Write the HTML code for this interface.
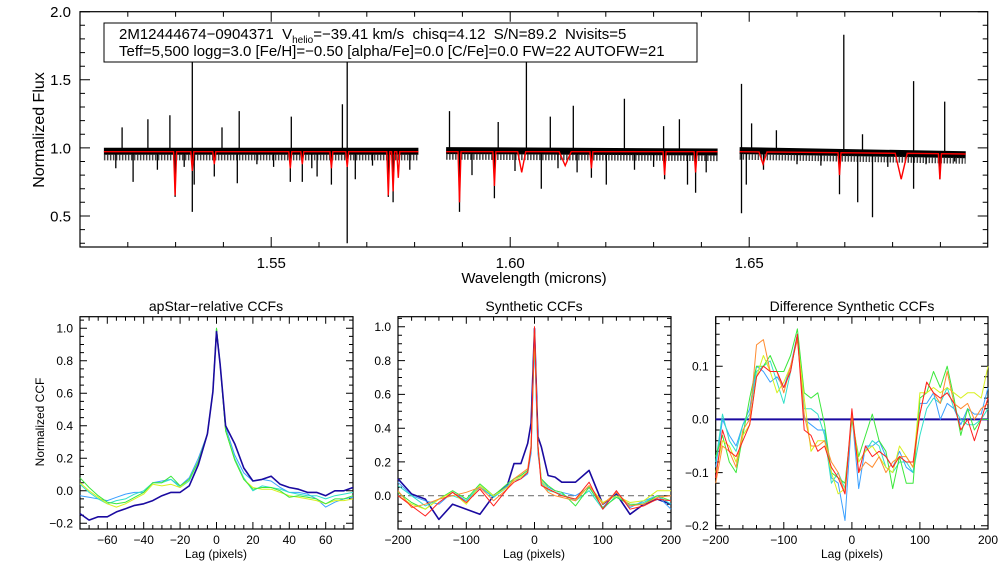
<!DOCTYPE html>
<html><head><meta charset="utf-8"><title>apStar CCF plot</title>
<style>
html,body{margin:0;padding:0;background:#fff;}
svg{display:block;font-family:"Liberation Sans",sans-serif;}
.pre{white-space:pre;}
</style></head>
<body>
<svg id="fig" width="1008" height="576" viewBox="0 0 1008 576" xmlns="http://www.w3.org/2000/svg">
<rect x="0" y="0" width="1008" height="576" fill="#fff"/>
<g id="spec"></g>
<g id="p1"></g>
<g id="p2"></g>
<g id="p3"></g>
<rect x="104" y="23" width="593" height="39" fill="#fff" stroke="#000" stroke-width="1"/>
<text class="pre" x="119" y="39" font-size="15">2M12444674−0904371  V<tspan font-size="10" dy="4">helio</tspan><tspan dy="-4">=−39.41 km/s  chisq=4.12  S/N=89.2  Nvisits=5</tspan></text>
<text class="pre" x="119" y="56" font-size="15">Teff=5,500 logg=3.0 [Fe/H]=−0.50 [alpha/Fe]=0.0 [C/Fe]=0.0 FW=22 AUTOFW=21</text>
<text transform="translate(44,130) rotate(-90)" text-anchor="middle" font-size="16">Normalized Flux</text>
<text x="534" y="283" text-anchor="middle" font-size="15">Wavelength (microns)</text>
<text x="216" y="311" text-anchor="middle" font-size="14">apStar−relative CCFs</text>
<text x="534" y="311" text-anchor="middle" font-size="14">Synthetic CCFs</text>
<text x="852" y="311" text-anchor="middle" font-size="14">Difference Synthetic CCFs</text>
<text transform="translate(44,422) rotate(-90)" text-anchor="middle" font-size="12">Normalized CCF</text>
<text x="216" y="558" text-anchor="middle" font-size="12">Lag (pixels)</text>
<text x="534" y="558" text-anchor="middle" font-size="12">Lag (pixels)</text>
<text x="852" y="558" text-anchor="middle" font-size="12">Lag (pixels)</text>
</svg>
<script>
// ---------- spectrum data ----------
const segStart = [1.515, 1.5866, 1.648];
const segEnd = [1.5808, 1.6434, 1.6953];
const contStart = [0.975, 0.98, 0.98];
const contEnd = [0.975, 0.97, 0.95];
const emisWave = [1.5188,1.5242,1.5288,1.5335,1.5397,1.5433,1.5542,1.5649,1.5659,1.5873,1.5975,1.6034,1.6084,1.6132,1.6239,1.6321,1.6354,1.6484,1.6505,1.6557,1.6698,1.6737,1.6844,1.6909];
const emisFlux = [1.15,1.21,1.24,1.64,1.15,1.27,1.23,1.32,1.64,1.27,1.19,1.64,1.23,1.31,1.36,1.16,1.21,1.47,1.18,1.13,1.83,1.10,1.49,1.34];
const absWave = [1.5211,1.5299,1.5335,1.5339,1.5381,1.5429,1.554,1.5565,1.5596,1.5626,1.5659,1.5676,1.5745,1.5755,1.5894,1.5967,1.6065,1.617,1.6201,1.6323,1.6371,1.6388,1.6484,1.6494,1.6689,1.6727,1.6758,1.6844,1.6899,1.5175,1.5262,1.5318,1.5470,1.5505,1.5585,1.5712,1.5790,1.5920,1.6010,1.6100,1.6140,1.6260,1.6300,1.6410,1.6530,1.6600,1.6650,1.6790,1.6870,1.6930];
const absFlux = [0.75,0.64,0.53,0.73,0.79,0.74,0.75,0.75,0.79,0.73,0.30,0.77,0.64,0.60,0.53,0.63,0.70,0.78,0.73,0.77,0.73,0.67,0.52,0.73,0.66,0.60,0.49,0.70,0.77,0.85,0.84,0.86,0.88,0.86,0.85,0.87,0.84,0.80,0.83,0.85,0.82,0.84,0.86,0.82,0.84,0.88,0.87,0.86,0.88,0.90];
const redWave = [1.5299,1.5335,1.5381,1.554,1.5565,1.5626,1.5659,1.5745,1.5755,1.5766,1.5894,1.5967,1.6024,1.6115,1.617,1.6323,1.6388,1.6529,1.6689,1.6818,1.6899];
const redFlux = [0.65,0.83,0.88,0.85,0.88,0.85,0.86,0.65,0.68,0.78,0.60,0.72,0.82,0.87,0.85,0.80,0.82,0.88,0.80,0.77,0.77];
const redWidth = [1.5,1.5,1.5,1.5,1.5,1.5,1.5,1.5,1.5,1.5,1.5,1.5,4,6,1.5,1.5,1.5,4,1.5,6,1.5];

// ---------- CCF data ----------
const lag1 = [-75,-70,-65,-60,-55,-50,-45,-40,-35,-30,-25,-20,-15,-10,-5,-2,0,2,5,10,15,20,25,30,35,40,45,50,55,60,65,70,75];
const ccf1Navy = [-0.14,-0.18,-0.16,-0.16,-0.13,-0.11,-0.09,-0.08,-0.06,-0.03,-0.01,-0.01,0.03,0.16,0.35,0.61,0.98,0.78,0.40,0.29,0.14,0.06,0.07,0.09,0.04,0.02,0.01,-0.01,-0.01,-0.03,0.0,0.0,0.02];
const ccf1Blue = [-0.03,-0.04,-0.05,-0.06,-0.04,-0.02,-0.01,-0.01,0.05,0.06,0.07,0.03,0.08,0.20,0.35,0.61,0.99,0.78,0.39,0.22,0.11,0.06,0.07,0.06,0.02,-0.01,-0.01,-0.02,-0.05,-0.10,-0.07,-0.05,-0.04];
const ccf1Cyan = [0.04,-0.01,-0.05,-0.08,-0.06,-0.05,-0.02,0.0,0.05,0.05,0.07,0.02,0.06,0.18,0.35,0.61,1.0,0.78,0.37,0.20,0.08,0.0,0.03,0.02,0.01,-0.01,-0.02,-0.03,-0.03,-0.05,-0.03,-0.02,-0.01];
const ccf1Green = [0.08,0.02,-0.03,-0.07,-0.08,-0.07,-0.04,-0.01,0.05,0.05,0.09,0.03,0.07,0.18,0.35,0.61,1.0,0.78,0.37,0.19,0.07,0.01,0.02,0.02,0.0,-0.04,-0.03,-0.04,-0.05,-0.08,-0.05,-0.05,-0.03];
const ccf1Yellow = [0.05,0.0,-0.04,-0.08,-0.10,-0.08,-0.05,-0.02,0.04,0.03,0.04,0.02,0.07,0.18,0.35,0.61,1.0,0.78,0.37,0.19,0.07,0.02,0.01,0.01,-0.01,-0.03,-0.04,-0.05,-0.06,-0.08,-0.06,-0.06,-0.05];

const lag2 = [-200,-180,-160,-140,-120,-100,-80,-60,-40,-30,-20,-10,-5,0,5,10,20,30,40,60,80,100,120,140,160,180,200];
const ccf2Navy = [0.10,0.01,-0.02,-0.14,-0.05,-0.08,-0.11,0.0,0.06,0.19,0.19,0.31,0.43,0.99,0.35,0.29,0.12,0.11,0.08,0.08,0.15,-0.05,0.01,-0.11,-0.05,-0.02,-0.05];
const ccf2Blue = [0.08,0.0,-0.03,-0.05,0.02,-0.03,0.05,-0.01,0.06,0.09,0.10,0.13,0.25,0.92,0.25,0.10,0.05,0.03,0.02,0.0,0.05,-0.07,0.02,-0.07,-0.03,0.0,-0.08];
const ccf2Cyan = [0.06,0.0,-0.06,-0.02,0.0,-0.03,0.06,-0.01,0.05,0.1,0.12,0.15,0.28,0.95,0.28,0.08,0.03,0.02,0.01,-0.03,0.03,-0.08,0.0,-0.06,-0.04,0.0,-0.05];
const ccf2Green = [0.02,-0.04,-0.08,-0.02,0.03,-0.02,0.07,0.0,0.07,0.1,0.12,0.15,0.28,0.98,0.3,0.1,0.06,0.03,0.02,-0.06,0.05,-0.07,-0.01,-0.05,-0.05,0.0,-0.03];
const ccf2Yellow = [0.0,-0.05,-0.08,-0.02,0.02,-0.05,0.06,0.0,0.05,0.09,0.11,0.14,0.28,0.97,0.28,0.09,0.04,0.02,0.0,-0.02,0.06,-0.04,0.0,-0.04,-0.03,0.03,0.03];
const ccf2Orange = [0.03,-0.07,-0.05,-0.02,0.0,0.02,0.05,-0.03,0.04,0.1,0.13,0.16,0.3,1.0,0.3,0.07,0.02,0.0,-0.01,-0.03,0.06,-0.05,0.02,-0.06,-0.05,-0.01,0.0];
const ccf2Red = [0.0,-0.06,-0.12,-0.04,0.02,-0.04,0.04,-0.06,0.04,0.08,0.1,0.14,0.28,1.0,0.3,0.06,0.04,0.02,0.0,-0.02,0.08,-0.08,0.03,-0.08,-0.06,-0.02,-0.03];

const lag3 = [-200,-190,-180,-170,-160,-150,-140,-130,-120,-110,-100,-90,-80,-70,-60,-50,-40,-30,-20,-10,0,10,20,30,40,50,60,70,80,90,100,110,120,130,140,150,160,170,180,190,200];
const diffBlue = [-0.09,0.0,-0.03,-0.05,-0.01,0.02,0.10,0.09,0.07,0.08,0.06,0.10,0.16,0.0,-0.01,-0.02,-0.02,-0.11,-0.12,-0.19,0.01,-0.13,-0.05,-0.05,-0.04,-0.07,-0.09,-0.06,-0.09,-0.1,0.03,0.03,0.05,0.0,0.03,0.02,-0.01,0.02,0.01,0.01,0.06];
const diffCyan = [-0.08,0.01,-0.04,-0.06,-0.01,0.01,0.09,0.10,0.11,0.07,0.03,0.09,0.16,0.02,0.02,0.01,-0.03,-0.12,-0.10,-0.13,0.0,-0.08,-0.06,-0.04,-0.05,-0.09,-0.1,-0.08,-0.08,-0.1,-0.03,0.02,0.04,0.03,0.06,0.02,0.0,-0.01,-0.01,0.0,0.02];
const diffGreen = [-0.07,-0.03,-0.08,-0.1,-0.03,0.04,0.10,0.10,0.12,0.09,0.09,0.12,0.17,0.05,0.04,0.05,-0.01,-0.10,-0.11,-0.12,0.0,-0.07,-0.03,0.01,-0.04,-0.06,-0.13,-0.07,-0.12,-0.12,0.04,0.05,0.09,0.06,0.10,0.04,-0.03,0.02,-0.02,0.0,0.0];
const diffYellow = [-0.10,-0.04,-0.05,-0.08,-0.03,-0.01,0.08,0.12,0.09,0.05,0.07,0.1,0.15,0.04,-0.06,-0.04,-0.04,-0.1,-0.14,-0.13,0.01,-0.08,-0.06,-0.05,-0.07,-0.09,-0.10,-0.05,-0.07,-0.09,0.05,0.05,0.06,0.05,0.06,0.05,0.04,0.05,0.05,0.04,0.1];
const diffOrange = [-0.12,-0.05,-0.06,-0.09,-0.02,0.0,0.14,0.15,0.09,0.09,0.05,0.10,0.15,0.01,-0.05,-0.05,-0.04,-0.08,-0.1,-0.14,0.01,-0.1,-0.08,-0.09,-0.07,-0.1,-0.08,-0.07,-0.07,-0.09,0.01,0.07,0.05,0.03,0.09,0.03,0.02,0.03,0.0,0.02,0.03];
const diffRed = [-0.11,-0.02,-0.06,-0.07,-0.04,-0.01,0.08,0.10,0.09,0.09,0.06,0.09,0.16,-0.02,-0.03,-0.06,-0.05,-0.09,-0.11,-0.14,0.02,-0.1,-0.05,-0.07,-0.06,-0.07,-0.09,-0.07,-0.08,-0.08,0.01,0.07,0.05,0.04,0.05,0.03,-0.02,0.0,-0.04,0.0,0.04];
const diffNavyLag = [-200,200];
const diffNavy = [0,0];

const NS = "http://www.w3.org/2000/svg";
function mk(parent, tag, attrs){
  const e = document.createElementNS(NS, tag);
  for (const k in attrs) e.setAttribute(k, attrs[k]);
  parent.appendChild(e);
  return e;
}
function scale(d0,d1,r0,r1){ return v => r0 + (v-d0)/(d1-d0)*(r1-r0); }

function axes(g, c){
  const sx = scale(c.xmin,c.xmax,c.x0,c.x1), sy = scale(c.ymin,c.ymax,c.y1,c.y0);
  function ticks(min,max,step){
    const out=[]; const a=Math.ceil(min/step-1e-6), b=Math.floor(max/step+1e-6);
    for(let k=a;k<=b;k++) out.push(k*step);
    return out;
  }
  let d = "";
  ticks(c.xmin,c.xmax,c.xminor).forEach(v=>{const x=sx(v).toFixed(1); d+=`M${x} ${c.y1}v${-c.tmin}M${x} ${c.y0}v${c.tmin}`;});
  ticks(c.ymin,c.ymax,c.yminor).forEach(v=>{const y=sy(v).toFixed(1); d+=`M${c.x0} ${y}h${c.tmin}M${c.x1} ${y}h${-c.tmin}`;});
  ticks(c.xmin,c.xmax,c.xmajor).forEach(v=>{const x=sx(v).toFixed(1); d+=`M${x} ${c.y1}v${-c.tmaj}M${x} ${c.y0}v${c.tmaj}`;});
  ticks(c.ymin,c.ymax,c.ymajor).forEach(v=>{const y=sy(v).toFixed(1); d+=`M${c.x0} ${y}h${c.tmaj}M${c.x1} ${y}h${-c.tmaj}`;});
  const tp = mk(g,"path",{d:d,stroke:"#000","stroke-width":1,fill:"none"});
  
  
  const fr = mk(g,"rect",{x:c.x0,y:c.y0,width:c.x1-c.x0,height:c.y1-c.y0,fill:"none",stroke:"#000","stroke-width":1.2});
  
  
  ticks(c.xmin,c.xmax,c.xmajor).forEach(v=>{
    const te = mk(g,"text",{x:sx(v),y:c.y1+c.xlabOff,"text-anchor":"middle","font-size":c.fs});
    te.textContent = c.xfmt(v);
    
    
  });
  ticks(c.ymin,c.ymax,c.ymajor).forEach(v=>{
    const te = mk(g,"text",{x:c.x0-c.ylabOff,y:sy(v)+c.fs*0.36,"text-anchor":"end","font-size":c.fs});
    te.textContent = c.yfmt(v);
    
    
  });
  return {sx, sy};
}
const minus = s => s.replace("-","−");
const f1 = v => minus((Math.abs(v)<1e-9?0:v).toFixed(1));
const f0 = v => minus(Math.round(v).toString());
const f2 = v => minus((Math.abs(v)<1e-9?0:v).toFixed(2));

// ---------- top spectrum panel ----------
const gs = document.getElementById("spec");
const cs = {name:"spectrum",x0:80,x1:987.7,y0:11.7,y1:247,xmin:1.51,xmax:1.6999,ymin:0.272,ymax:2.0,
  xmajor:0.05,xminor:0.01,ymajor:0.5,yminor:0.1,tmaj:10,tmin:5,fs:15,xlabOff:21,ylabOff:9,xfmt:f2,yfmt:f1};
const AS = axes(gs, cs);
const gsClip = mk(gs,"g",{});


function contAt(w){
  for(let i=0;i<segStart.length;i++){
    if(w>=segStart[i]-1e-6 && w<=segEnd[i]+1e-6){
      return contStart[i]+(w-segStart[i])/(segEnd[i]-segStart[i])*(contEnd[i]-contStart[i]);
    }
  }
  return 0.98;
}
for(let i=0;i<segStart.length;i++){
  const band = mk(gsClip,"path",{d:`M${AS.sx(segStart[i]).toFixed(1)} ${AS.sy(contStart[i]).toFixed(1)}L${AS.sx(segEnd[i]).toFixed(1)} ${AS.sy(contEnd[i]).toFixed(1)}`,
    stroke:"#000","stroke-width":7,fill:"none"});
  
  
  const band2 = mk(gsClip,"path",{d:`M${AS.sx(segStart[i]).toFixed(1)} ${AS.sy(contStart[i]-0.045).toFixed(1)}L${AS.sx(segEnd[i]).toFixed(1)} ${AS.sy(contEnd[i]-0.045).toFixed(1)}`,
    stroke:"#444","stroke-width":6,fill:"none","stroke-dasharray":"1.5 1.5"});
  
  
}
let de = "";
emisWave.forEach((w,i)=>{const x=AS.sx(w).toFixed(1); de+=`M${x} ${AS.sy(contAt(w)).toFixed(1)}V${AS.sy(emisFlux[i]).toFixed(1)}`;});
const ep = mk(gsClip,"path",{d:de,stroke:"#000","stroke-width":1.3,fill:"none"});


let da = "";
absWave.forEach((w,i)=>{const x=AS.sx(w).toFixed(1); da+=`M${x} ${AS.sy(contAt(w)).toFixed(1)}V${AS.sy(absFlux[i]).toFixed(1)}`;});
const ap = mk(gsClip,"path",{d:da,stroke:"#000","stroke-width":1.3,fill:"none"});


for(let i=0;i<segStart.length;i++){
  const s=segStart[i], e=segEnd[i];
  const rc0 = 0.972, rc1 = (i===2?0.955:0.972);
  const rcont = w => rc0 + (w-s)/(e-s)*(rc1-rc0);
  let d = `M${AS.sx(s).toFixed(1)} ${AS.sy(rcont(s)).toFixed(1)}`;
  const idx = redWave.map((w,k)=>k).filter(k=>redWave[k]>=s && redWave[k]<=e).sort((a,b)=>redWave[a]-redWave[b]);
  idx.forEach(k=>{
    const x=AS.sx(redWave[k]), c=AS.sy(rcont(redWave[k]));
    d += `L${(x-redWidth[k]).toFixed(1)} ${c.toFixed(1)}L${x.toFixed(1)} ${AS.sy(redFlux[k]).toFixed(1)}L${(x+redWidth[k]).toFixed(1)} ${c.toFixed(1)}`;
  });
  d += `L${AS.sx(e).toFixed(1)} ${AS.sy(rcont(e)).toFixed(1)}`;
  const rp = mk(gsClip,"path",{d:d,stroke:"#ff0000","stroke-width":1.4,fill:"none"});
  
  
}

// ---------- CCF panels ----------
function series(g, A, xs, ys, color, name, extra){
  let d="";
  xs.forEach((x,i)=>{ d += (i?"L":"M")+A.sx(x).toFixed(1)+" "+A.sy(ys[i]).toFixed(1); });
  const p = mk(g,"path",Object.assign({d:d,stroke:color,"stroke-width":1,fill:"none","stroke-linejoin":"round"},extra||{}));
  
  
}
const cols = {navy:"#1a0aa0",blue:"#3aa0ff",cyan:"#30e0c8",green:"#3ce83c",yellow:"#d8f020",orange:"#ff8c30",red:"#ff2020"};

const g1 = document.getElementById("p1");
const A1 = axes(g1,{name:"apstar-ccf",x0:80,x1:353,y0:316.7,y1:529,xmin:-75,xmax:75,ymin:-0.235,ymax:1.071,
  xmajor:20,xminor:5,ymajor:0.2,yminor:0.05,tmaj:7,tmin:4,fs:12,xlabOff:15,ylabOff:7,xfmt:f0,yfmt:f1});
series(g1,A1,lag1,ccf1Blue,cols.blue,"ccf1-visit-blue");
series(g1,A1,lag1,ccf1Cyan,cols.cyan,"ccf1-visit-cyan");
series(g1,A1,lag1,ccf1Yellow,cols.yellow,"ccf1-visit-yellow");
series(g1,A1,lag1,ccf1Green,cols.green,"ccf1-visit-green");
series(g1,A1,lag1,ccf1Navy,cols.navy,"ccf1-combined-navy",{"stroke-width":1.6});

const g2 = document.getElementById("p2");
const A2 = axes(g2,{name:"synthetic-ccf",x0:398,x1:671,y0:316.7,y1:529,xmin:-200,xmax:200,ymin:-0.197,ymax:1.06,
  xmajor:100,xminor:20,ymajor:0.2,yminor:0.05,tmaj:7,tmin:4,fs:12,xlabOff:15,ylabOff:7,xfmt:f0,yfmt:f1});
series(g2,A2,[-200,200],[0,0],"#777","zero-line-dashed",{"stroke-dasharray":"6 4","stroke-width":1.2});
series(g2,A2,lag2,ccf2Navy,cols.navy,"ccf2-combined-navy",{"stroke-width":1.6});
series(g2,A2,lag2,ccf2Blue,cols.blue,"ccf2-visit-blue");
series(g2,A2,lag2,ccf2Cyan,cols.cyan,"ccf2-visit-cyan");
series(g2,A2,lag2,ccf2Green,cols.green,"ccf2-visit-green");
series(g2,A2,lag2,ccf2Yellow,cols.yellow,"ccf2-visit-yellow");
series(g2,A2,lag2,ccf2Orange,cols.orange,"ccf2-visit-orange");
series(g2,A2,lag2,ccf2Red,cols.red,"ccf2-visit-red");

const g3 = document.getElementById("p3");
const A3 = axes(g3,{name:"difference-ccf",x0:715.7,x1:988,y0:316.7,y1:529,xmin:-200,xmax:200,ymin:-0.206,ymax:0.193,
  xmajor:100,xminor:20,ymajor:0.1,yminor:0.02,tmaj:7,tmin:4,fs:12,xlabOff:15,ylabOff:7,xfmt:f0,yfmt:f1});
series(g3,A3,diffNavyLag,diffNavy,cols.navy,"diff-combined-navy",{"stroke-width":2});
series(g3,A3,lag3,diffBlue,cols.blue,"diff-visit-blue");
series(g3,A3,lag3,diffCyan,cols.cyan,"diff-visit-cyan");
series(g3,A3,lag3,diffGreen,cols.green,"diff-visit-green");
series(g3,A3,lag3,diffYellow,cols.yellow,"diff-visit-yellow");
series(g3,A3,lag3,diffOrange,cols.orange,"diff-visit-orange");
series(g3,A3,lag3,diffRed,cols.red,"diff-visit-red");
</script>
</body></html>
